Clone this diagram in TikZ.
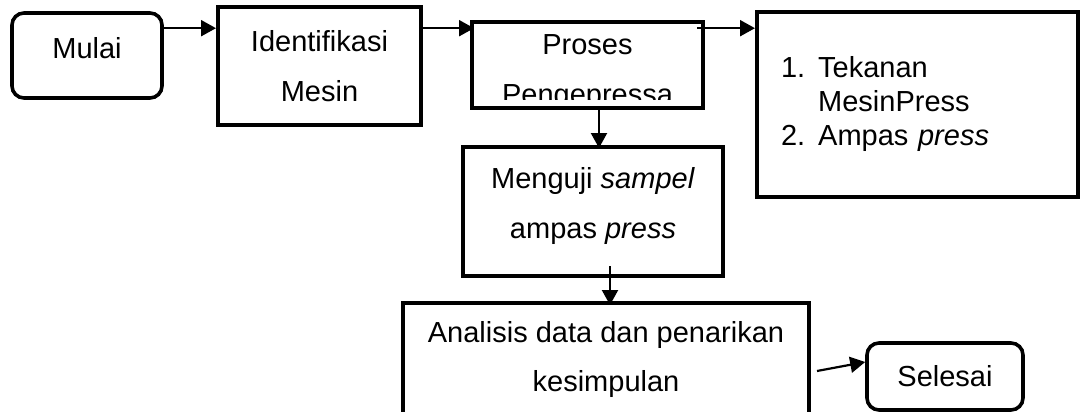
\documentclass[tikz,border=0pt]{standalone}
\usepackage{fontspec}
\setmainfont{Liberation Sans}
\usetikzlibrary{arrows.meta}
\begin{document}
\begin{tikzpicture}[x=1pt,y=1pt,
  box/.style={draw=black, line width=4pt, rectangle, inner sep=0pt,
    font=\fontsize{29}{50}\selectfont, align=center},
  roundbox/.style={box, line width=3.6pt, rounded corners=12pt},
  arr/.style={line width=2.2pt, -{Triangle[length=15pt,width=16pt]}}]
\useasboundingbox (0,0) rectangle (1080,-412);

\node[roundbox, minimum width=150pt, minimum height=85pt, text depth=16pt] (mulai) at (87,-55.5) {Mulai};
\node[box, minimum width=203pt, minimum height=118pt] (idf) at (319.5,-66) {Identifikasi\\Mesin};
\node[box, minimum width=231pt, minimum height=86pt,
  path picture={
    \clip ([yshift=8pt]path picture bounding box.south west) rectangle (path picture bounding box.north east);
    \node[font=\fontsize{29}{50}\selectfont, align=center, inner sep=0pt] (prosestext) at ([yshift=-7.5pt]path picture bounding box.center) {Proses\\Pengepressa};
  }] (proses) at (587.5,-65) {};
\node[box, minimum height=185pt, text width=273pt, inner xsep=24pt, align=left,
  font=\fontsize{29}{34}\selectfont] (hasil) at (917.5,-104.5)
  {\begin{tabular}{@{}l@{\hspace{13pt}}l@{}}1. & Tekanan\\ & MesinPress\\ 2. & Ampas \textit{press}\end{tabular}};
\node[box, minimum width=260pt, minimum height=129pt, text depth=18pt] (uji) at (593,-211.5) {Menguji \textit{sampel}\\ampas \textit{press}};
\node[box, minimum width=406pt, minimum height=113pt] (analisis) at (606,-359.5) {Analisis data dan penarikan\\kesimpulan};
\node[roundbox, minimum width=156pt, minimum height=67pt] (selesai) at (945,-376.5) {Selesai};

\coordinate (a1) at ([yshift=-17pt]mulai.north east);
\draw[arr] (a1) -- (a1 -| idf.west);
\coordinate (a2) at (idf.east |- a1);
\draw[arr] (a2) -- ([xshift=4pt]a2 -| proses.west);
\coordinate (a3) at ([xshift=-8pt]proses.east |- a1);
\draw[arr] (a3) -- (a3 -| hasil.west);
\coordinate (a4) at ([xshift=11.5pt]proses.south);
\draw[arr] (a4) -- ([yshift=-3pt]a4 |- uji.north);
\coordinate (a5) at ([xshift=17pt,yshift=12pt]uji.south);
\draw[arr] (a5) -- ([yshift=-4pt]a5 |- analisis.north);
\coordinate (a6) at ([xshift=6pt,yshift=-11.5pt]analisis.east);
\draw[arr] (a6) -- ([yshift=14.5pt]selesai.west);
\end{tikzpicture}
\end{document}
